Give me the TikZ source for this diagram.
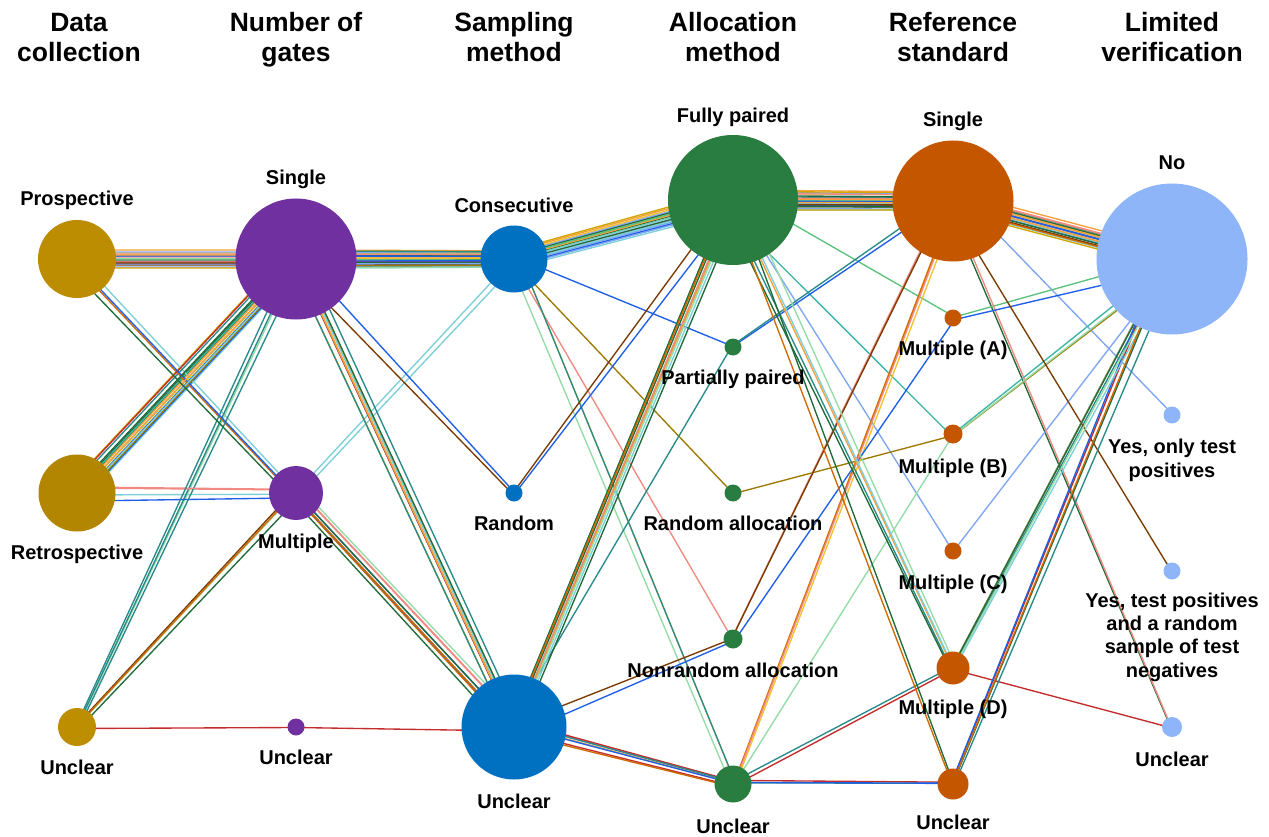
\documentclass[tikz,border=0pt]{standalone}
\usepackage{fontspec}
\setmainfont{Liberation Sans}
\usetikzlibrary{calc}
\pgfdeclarelayer{bg}
\pgfsetlayers{bg,main}
% node colours
\definecolor{nP}{HTML}{BC8D00}
\definecolor{nR}{HTML}{B28600}
\definecolor{nU}{HTML}{BD8E00}
\definecolor{nPur}{HTML}{7030A0}
\definecolor{nBlu}{HTML}{0070C0}
\definecolor{nGrn}{HTML}{2A7D40}
\definecolor{nOrg}{HTML}{C45600}
\definecolor{nLbl}{HTML}{8DB5F8}
% line colours
\definecolor{cOr}{HTML}{F5A03A}
\definecolor{cYe}{HTML}{F2C230}
\definecolor{cTe}{HTML}{2A8A8A}
\definecolor{cDg}{HTML}{1F6B3A}
\definecolor{cLb}{HTML}{7EA6F2}
\definecolor{cRd}{HTML}{C42B2B}
\definecolor{cBl}{HTML}{1F5FE8}
\definecolor{cPk}{HTML}{F08A82}
\definecolor{cGr}{HTML}{5CC27E}
\definecolor{cBr}{HTML}{7A3A00}
\definecolor{cDo}{HTML}{D06A00}
\definecolor{cLt}{HTML}{7DCFD8}
\definecolor{cGo}{HTML}{D4A600}
\definecolor{cOl}{HTML}{9C7A00}
\definecolor{cTg}{HTML}{3AB5A5}
\definecolor{cLg}{HTML}{94DCA6}
% jitter radius per node
\def\jdcP{10}\def\jdcR{10}\def\jdcU{3}
\def\jngS{10}\def\jngM{6}\def\jngU{1}
\def\jsmC{9}\def\jsmR{2}\def\jsmU{8}
\def\jamF{11}\def\jamP{2}\def\jamR{1}\def\jamN{2}\def\jamU{4}
\def\jrsS{10}\def\jrsA{2}\def\jrsB{2}\def\jrsC{1}\def\jrsD{3}\def\jrsU{2}
\def\jlvN{10}\def\jlvY{1}\def\jlvZ{1}\def\jlvU{2}
\begin{document}
\begin{tikzpicture}[x=1pt,y=-1pt,
  dot/.style={circle, inner sep=0pt, draw=none},
  lab/.style={font=\bfseries\fontsize{20}{24}\selectfont, anchor=base, inner sep=0pt},
  hdr/.style={font=\bfseries\fontsize{26.5}{30}\selectfont, anchor=base, inner sep=0pt},
  flow/.style={line width=1.35pt, line join=round, line cap=round}]
\useasboundingbox (0,0) rectangle (1269,837);
% ---- circles
\node[dot, fill=nP, minimum size=78pt]  (dcP) at (77,259) {};
\node[dot, fill=nR, minimum size=77pt]  (dcR) at (77,493) {};
\node[dot, fill=nU, minimum size=38pt]  (dcU) at (77,727) {};
\node[dot, fill=nPur, minimum size=121pt] (ngS) at (296,259) {};
\node[dot, fill=nPur, minimum size=54pt]  (ngM) at (296,493) {};
\node[dot, fill=nPur, minimum size=17pt]  (ngU) at (296,727) {};
\node[dot, fill=nBlu, minimum size=67pt]  (smC) at (514,259) {};
\node[dot, fill=nBlu, minimum size=17pt]  (smR) at (514,493) {};
\node[dot, fill=nBlu, minimum size=105pt] (smU) at (514,727) {};
\node[dot, fill=nGrn, minimum size=130pt] (amF) at (733,200) {};
\node[dot, fill=nGrn, minimum size=17pt]  (amP) at (733,347) {};
\node[dot, fill=nGrn, minimum size=17pt]  (amR) at (733,493) {};
\node[dot, fill=nGrn, minimum size=19pt]  (amN) at (733,639) {};
\node[dot, fill=nGrn, minimum size=37pt]  (amU) at (733,784) {};
\node[dot, fill=nOrg, minimum size=121pt] (rsS) at (953,201) {};
\node[dot, fill=nOrg, minimum size=17pt]  (rsA) at (953,318) {};
\node[dot, fill=nOrg, minimum size=19pt]  (rsB) at (953,434) {};
\node[dot, fill=nOrg, minimum size=17pt]  (rsC) at (953,551) {};
\node[dot, fill=nOrg, minimum size=33pt]  (rsD) at (953,668) {};
\node[dot, fill=nOrg, minimum size=31pt]  (rsU) at (953,784) {};
\node[dot, fill=nLbl, minimum size=151pt] (lvN) at (1172,259) {};
\node[dot, fill=nLbl, minimum size=17pt]  (lvY) at (1172,415) {};
\node[dot, fill=nLbl, minimum size=17pt]  (lvZ) at (1172,571) {};
\node[dot, fill=nLbl, minimum size=20pt]  (lvU) at (1172,727) {};
% ---- flows (one polyline per study)
\begin{pgfonlayer}{bg}
\fill[white] (0,0) rectangle (1269,837);
\foreach \ka/\kb/\kc/\kd/\ke/\kf/\col/\ux/\uy in {
 P/S/C/F/S/N/cOr/0.2/-0.9,
 P/S/C/F/S/N/cYe/-0.3/-0.6,
 P/S/C/F/S/N/cTe/0.5/-0.3,
 P/S/C/F/S/N/cDg/-0.6/0.1,
 P/S/C/F/S/N/cLb/0.1/0.8,
 P/S/C/F/S/N/cRd/-0.1/0.3,
 P/S/C/F/S/N/cBl/0.7/0.5,
 P/S/C/F/S/N/cPk/-0.8/-0.2,
 P/S/C/F/S/N/cGr/0.3/0.0,
 P/S/C/F/S/N/cBr/-0.4/0.6,
 P/S/C/F/S/Y/cLb/0.6/-0.7,
 R/S/C/F/S/N/cOr/-0.2/-0.1,
 R/S/C/F/S/N/cLt/0.4/0.9,
 R/S/C/F/S/N/cGo/-0.7/-0.8,
 R/S/C/F/S/N/cBl/0.9/0.2,
 R/S/C/F/S/N/cDg/0.0/-0.4,
 R/S/C/F/S/U/cDg/-0.5/0.4,
 R/S/C/F/A/N/cGr/0.8/-0.5,
 R/S/C/F/B/N/cTg/-0.9/0.7,
 P/S/C/F/C/N/cLb/0.2/0.5,
 R/M/C/F/S/N/cLt/-0.3/0.2,
 P/M/C/F/S/N/cLt/0.5/0.3,
 P/S/C/P/S/N/cBl/-0.1/-0.3,
 R/S/C/R/B/N/cOl/0.3/0.7,
 P/S/C/N/S/U/cPk/-0.6/-0.5,
 R/S/C/U/S/N/cYe/0.7/-0.1,
 U/S/C/U/B/N/cLg/-0.2/0.9,
 U/S/C/U/D/N/cTe/0.4/-0.8,
 P/S/R/F/S/N/cBr/-0.8/0.4,
 R/S/R/F/S/N/cBl/0.6/0.1,
 U/U/U/U/D/U/cRd/0.0/0.5,
 R/S/U/P/S/N/cTe/-0.4/-0.7,
 R/M/U/N/A/N/cBl/0.8/0.8,
 U/M/U/N/S/Z/cBr/-0.7/0.0,
 R/S/U/U/S/N/cOr/0.2/-0.2,
 P/M/U/U/S/N/cDo/-0.1/0.7,
 R/M/U/U/S/N/cPk/0.5/-0.5,
 R/S/U/U/U/N/cRd/-0.5/-0.9,
 U/S/U/U/U/N/cTe/0.9/-0.3,
 P/M/U/U/U/N/cBl/-0.9/-0.4,
 R/S/U/F/S/N/cOr/0.1/0.2,
 U/M/U/F/S/N/cDg/0.6/0.6,
 P/S/U/F/S/N/cGo/-0.3/0.9,
 R/M/U/F/S/N/cPk/0.3/-0.6,
 U/S/U/F/D/N/cTe/-0.6/0.3,
 U/M/U/F/D/N/cLg/0.7/-0.9,
 P/S/U/F/D/N/cOr/-0.2/-0.4,
 R/S/U/F/D/N/cLt/0.4/0.4,
 P/M/U/F/D/N/cDg/-0.8/0.8,
 R/S/U/F/U/N/cDg/0.1/-0.7,
 U/M/U/F/U/N/cDo/-0.4/0.1}
{
 \draw[flow, color=\col]
   ($(dc\ka)+({\ux*\csname jdc\ka\endcsname},{\uy*\csname jdc\ka\endcsname})$)
   -- ($(ng\kb)+({\ux*\csname jng\kb\endcsname},{\uy*\csname jng\kb\endcsname})$)
   -- ($(sm\kc)+({\ux*\csname jsm\kc\endcsname},{\uy*\csname jsm\kc\endcsname})$)
   -- ($(am\kd)+({\ux*\csname jam\kd\endcsname},{\uy*\csname jam\kd\endcsname})$)
   -- ($(rs\ke)+({\ux*\csname jrs\ke\endcsname},{\uy*\csname jrs\ke\endcsname})$)
   -- ($(lv\kf)+({\ux*\csname jlv\kf\endcsname},{\uy*\csname jlv\kf\endcsname})$);
}
\end{pgfonlayer}
% ---- headers
\node[hdr] (h1) at (79,32)   {\begin{tabular}[t]{@{}c@{}}Data\\collection\end{tabular}};
\node[hdr] (h2) at (296,32)  {\begin{tabular}[t]{@{}c@{}}Number of\\gates\end{tabular}};
\node[hdr] (h3) at (514,32)  {\begin{tabular}[t]{@{}c@{}}Sampling\\method\end{tabular}};
\node[hdr] (h4) at (733,32)  {\begin{tabular}[t]{@{}c@{}}Allocation\\method\end{tabular}};
\node[hdr] (h5) at (953,32)  {\begin{tabular}[t]{@{}c@{}}Reference\\standard\end{tabular}};
\node[hdr] (h6) at (1172,32) {\begin{tabular}[t]{@{}c@{}}Limited\\verification\end{tabular}};
% ---- labels
\node[lab] (ldcP) at (77,206) {Prospective};
\node[lab] (ldcR) at (77,559) {Retrospective};
\node[lab] (ldcU) at (77,774) {Unclear};
\node[lab] (lngS) at (296,185) {Single};
\node[lab] (lngM) at (296,548) {Multiple};
\node[lab] (lngU) at (296,764) {Unclear};
\node[lab] (lsmC) at (514,213) {Consecutive};
\node[lab] (lsmR) at (514,530) {Random};
\node[lab] (lsmU) at (514,808) {Unclear};
\node[lab] (lamF) at (733,123) {Fully paired};
\node[lab] (lamP) at (733,384) {Partially paired};
\node[lab] (lamR) at (733,530) {Random allocation};
\node[lab] (lamN) at (733,677) {Nonrandom allocation};
\node[lab] (lamU) at (733,833) {Unclear};
\node[lab] (lrsS) at (953,127) {Single};
\node[lab] (lrsA) at (953,355) {Multiple (A)};
\node[lab] (lrsB) at (953,473) {Multiple (B)};
\node[lab] (lrsC) at (953,589) {Multiple (C)};
\node[lab] (lrsD) at (953,714) {Multiple (D)};
\node[lab] (lrsU) at (953,829) {Unclear};
\node[lab] (llvN) at (1172,170) {No};
\node[lab] (llvY) at (1172,453) {\begin{tabular}[t]{@{}c@{}}Yes, only test\\positives\end{tabular}};
\node[lab] (llvZ) at (1172,607) {\fontsize{20}{23.4}\selectfont\begin{tabular}[t]{@{}c@{}}Yes, test positives\\and a random\\sample of test\\negatives\end{tabular}};
\node[lab] (llvU) at (1172,766) {Unclear};
\end{tikzpicture}
\end{document}
